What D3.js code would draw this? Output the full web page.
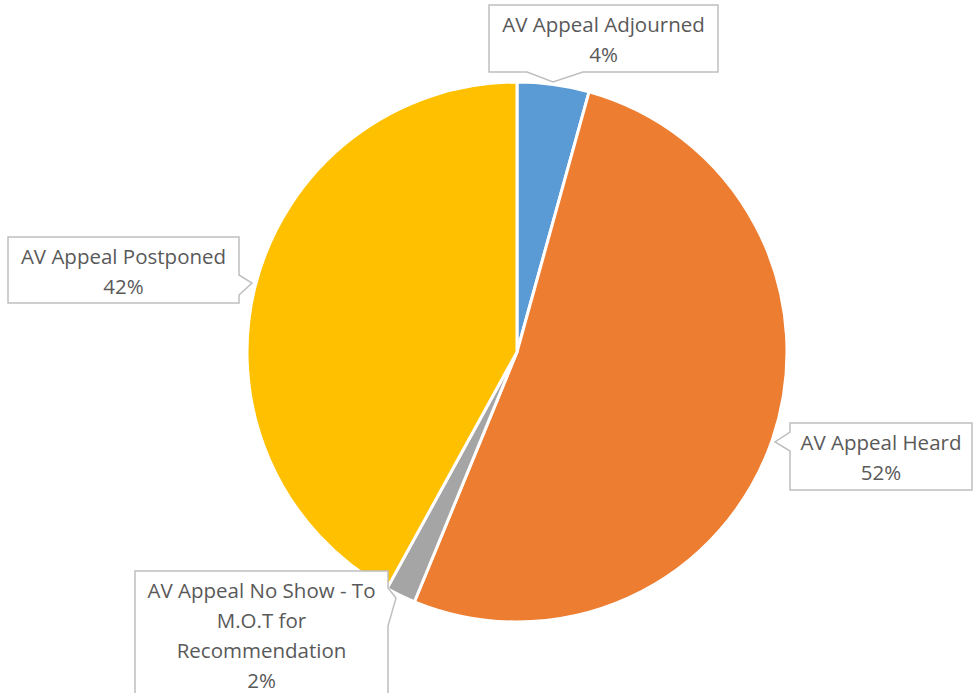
<!DOCTYPE html>
<html>
<head>
<meta charset="utf-8">
<script src="https://cdn.jsdelivr.net/npm/d3@7"></script>
<style>
  body { margin: 0; background: #fff; }
  svg text { font-family: "Open Sans", Lato, sans-serif; fill: #595959; }
</style>
</head>
<body>
<svg id="chart" width="973" height="693"></svg>
<script>
let categories = ["AV Appeal Adjourned", "AV Appeal Heard",
    "AV Appeal No Show - To M.O.T for Recommendation", "AV Appeal Postponed"];
let shares = [4.3, 51.9, 1.8, 42.0];
let colours = ["#5B9BD5", "#ED7D31", "#A5A5A5", "#FFC000"];
let labelLines = [
    ["AV Appeal Adjourned"],
    ["AV Appeal Heard"],
    ["AV Appeal No Show - To", "M.O.T for", "Recommendation"],
    ["AV Appeal Postponed"]
];

// callout boxes: x, y, w, h, pointer side, pointer base a/b, tip
let boxes = [
    {x: 489, y: 5, w: 229, h: 67, side: "bottom", a: 527, b: 583, tip: [553, 82]},
    {x: 790, y: 423, w: 182, h: 67, side: "left", a: 432, b: 451, tip: [775, 442]},
    {x: 135, y: 571, w: 253, h: 140, side: "right", a: 588, b: 626, tip: [396, 598]},
    {x: 8, y: 237, w: 231, h: 66, side: "right", a: 275, b: 295, tip: [252, 283]}
];

let svg = d3.select("#chart");
let cx = 517, cy = 352, radius = 270;

let pie = d3.pie().sort(null).value(d => d);
let arc = d3.arc().innerRadius(0).outerRadius(radius);

let g = svg.append("g").attr("transform", `translate(${cx},${cy})`);
g.selectAll("path")
    .data(pie(shares))
    .enter().append("path")
    .attr("d", arc)
    .attr("fill", (d, i) => colours[i])
    .attr("stroke", "white")
    .attr("stroke-width", 3)
    .attr("stroke-linejoin", "round");

function calloutPath(b){
    let x0 = b.x, y0 = b.y, x1 = b.x + b.w, y1 = b.y + b.h;
    let p = d3.path();
    p.moveTo(x0, y0);
    p.lineTo(x1, y0);
    if (b.side === "right"){
        p.lineTo(x1, b.a); p.lineTo(b.tip[0], b.tip[1]); p.lineTo(x1, b.b);
    }
    p.lineTo(x1, y1);
    if (b.side === "bottom"){
        p.lineTo(b.b, y1); p.lineTo(b.tip[0], b.tip[1]); p.lineTo(b.a, y1);
    }
    p.lineTo(x0, y1);
    if (b.side === "left"){
        p.lineTo(x0, b.b); p.lineTo(b.tip[0], b.tip[1]); p.lineTo(x0, b.a);
    }
    p.closePath();
    return p.toString();
}

let labels = svg.selectAll("g.label")
    .data(boxes)
    .enter().append("g")
    .attr("class", "label");

labels.append("path")
    .attr("d", d => calloutPath(d))
    .attr("fill", "white")
    .attr("stroke", "#BFBFBF")
    .attr("stroke-width", 1.5);

labels.each(function(b, i){
    let lines = labelLines[i].concat([Math.round(shares[i]) + "%"]);
    let t = d3.select(this).append("text")
        .attr("text-anchor", "middle")
        .attr("font-size", 20.5);
    lines.forEach((s, k) => {
        t.append("tspan")
            .attr("x", b.x + b.w / 2)
            .attr("y", b.y + 27 + k * 30)
            .text(s);
    });
});
</script>
</body>
</html>
